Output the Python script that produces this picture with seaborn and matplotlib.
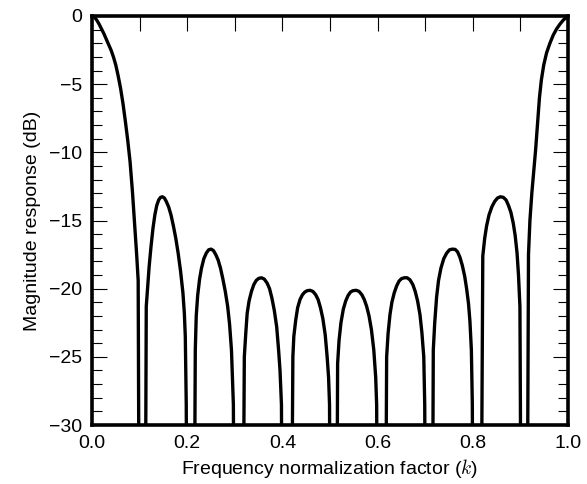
import numpy as np
import pandas as pd
import matplotlib
matplotlib.use("Agg")
import matplotlib.pyplot as plt
from matplotlib.ticker import MultipleLocator, FuncFormatter
import seaborn as sns

main_lobe_left_k = [0.000, 0.005, 0.010, 0.015, 0.020, 0.025, 0.030, 0.035, 0.040, 0.045, 0.050,
                    0.055, 0.060, 0.065, 0.070, 0.075, 0.080, 0.085, 0.090, 0.094, 0.097, 0.098, 0.105]
main_lobe_left_db = [0.0, -0.08, -0.3, -0.6, -0.95, -1.3, -1.7, -2.1, -2.5, -3.0, -3.6,
                     -4.4, -5.3, -6.4, -7.7, -9.1, -10.7, -12.9, -15.5, -17.6, -19.4, -28.5, -100]

lobe1_k = [0.114, 0.117, 0.120, 0.124, 0.128, 0.132, 0.136, 0.140, 0.144, 0.148, 0.152,
           0.156, 0.161, 0.166, 0.171, 0.176, 0.181, 0.186, 0.191, 0.194, 0.196, 0.198, 0.206]
lobe1_db = [-21.3, -19.8, -18.4, -16.9, -15.6, -14.6, -13.9, -13.5, -13.3, -13.26, -13.35,
            -13.6, -14.0, -14.6, -15.4, -16.3, -17.4, -18.7, -20.3, -21.8, -23.5, -28.5, -100]

lobe2_k = [0.217, 0.219, 0.222, 0.226, 0.230, 0.235, 0.240, 0.245, 0.250, 0.255,
           0.260, 0.265, 0.270, 0.275, 0.280, 0.285, 0.289, 0.293, 0.297, 0.307]
lobe2_db = [-24.5, -22.0, -20.5, -19.3, -18.5, -17.8, -17.4, -17.15, -17.1, -17.2,
            -17.5, -17.9, -18.5, -19.3, -20.2, -21.3, -22.6, -24.5, -28.5, -100]

lobe3_k = [0.320, 0.323, 0.326, 0.330, 0.335, 0.340, 0.345, 0.350, 0.356, 0.362,
           0.368, 0.373, 0.378, 0.383, 0.388, 0.392, 0.395, 0.398, 0.408]
lobe3_db = [-25.0, -23.3, -21.8, -20.9, -20.2, -19.7, -19.4, -19.25, -19.2, -19.3,
            -19.6, -20.0, -20.7, -21.6, -22.8, -24.5, -26.0, -28.5, -100]

lobe4_k = [0.422, 0.424, 0.428, 0.432, 0.437, 0.442, 0.447, 0.452, 0.458, 0.464,
           0.470, 0.475, 0.480, 0.485, 0.490, 0.494, 0.497, 0.499, 0.507]
lobe4_db = [-25.0, -23.5, -22.3, -21.4, -20.8, -20.45, -20.25, -20.15, -20.12, -20.2,
            -20.45, -20.8, -21.4, -22.2, -23.4, -25.0, -26.5, -28.5, -100]

lobe5_k = [0.516, 0.519, 0.523, 0.528, 0.533, 0.538, 0.543, 0.548, 0.555, 0.561,
           0.567, 0.572, 0.577, 0.582, 0.587, 0.592, 0.596, 0.598, 0.608]
lobe5_db = [-25.5, -23.8, -22.5, -21.5, -20.9, -20.5, -20.25, -20.15, -20.12, -20.2,
            -20.45, -20.8, -21.3, -22.0, -23.0, -24.5, -26.5, -28.5, -100]

lobe6_k = [0.619, 0.622, 0.626, 0.630, 0.635, 0.640, 0.645, 0.650, 0.656, 0.662,
           0.668, 0.674, 0.679, 0.684, 0.689, 0.693, 0.697, 0.699, 0.708]
lobe6_db = [-25.0, -23.3, -21.9, -21.0, -20.3, -19.8, -19.45, -19.27, -19.2, -19.2,
            -19.35, -19.7, -20.2, -20.9, -21.9, -23.2, -25.0, -28.5, -100]

lobe7_k = [0.717, 0.720, 0.724, 0.728, 0.733, 0.739, 0.745, 0.751, 0.757, 0.763,
           0.768, 0.773, 0.778, 0.783, 0.787, 0.791, 0.794, 0.797, 0.799, 0.808]
lobe7_db = [-24.5, -22.5, -20.6, -19.4, -18.5, -17.8, -17.4, -17.15, -17.1, -17.12,
            -17.3, -17.7, -18.3, -19.1, -20.0, -21.1, -22.4, -24.5, -28.5, -100]

lobe8_k = [0.821, 0.825, 0.829, 0.834, 0.840, 0.846, 0.852, 0.858, 0.864, 0.870,
           0.875, 0.880, 0.885, 0.889, 0.893, 0.896, 0.899, 0.900, 0.907]
lobe8_db = [-17.6, -16.3, -15.4, -14.6, -14.0, -13.6, -13.35, -13.26, -13.3, -13.5,
            -13.9, -14.4, -15.2, -16.1, -17.4, -19.0, -21.3, -28.5, -100]

main_lobe_right_k = [0.917, 0.920, 0.924, 0.928, 0.932, 0.936, 0.940, 0.944, 0.949, 0.955,
                     0.962, 0.969, 0.976, 0.983, 0.990, 1.000]
main_lobe_right_db = [-17.5, -15.0, -13.0, -11.4, -9.8, -7.9, -6.0, -4.7, -3.6, -2.7,
                      -2.0, -1.4, -0.95, -0.6, -0.3, 0.0]

k = (main_lobe_left_k + lobe1_k + lobe2_k + lobe3_k + lobe4_k + lobe5_k
     + lobe6_k + lobe7_k + lobe8_k + main_lobe_right_k)
db = (main_lobe_left_db + lobe1_db + lobe2_db + lobe3_db + lobe4_db + lobe5_db
      + lobe6_db + lobe7_db + lobe8_db + main_lobe_right_db)
df = pd.DataFrame({"k": k, "dB": db})

sns.set_style("white")
plt.rcParams["font.family"] = ["Liberation Sans", "DejaVu Sans"]
plt.rcParams["mathtext.fontset"] = "cm"
plt.rcParams["text.color"] = "black"
plt.rcParams["axes.labelcolor"] = "black"
plt.rcParams["xtick.color"] = "black"
plt.rcParams["ytick.color"] = "black"

fig = plt.figure(figsize=(5.87, 4.84), dpi=100)
ax = fig.add_axes([92 / 587, 1 - 425 / 484, 476 / 587, 409 / 484])

sns.lineplot(data=df, x="k", y="dB", sort=False, estimator=None,
             color="black", lw=2.4, ax=ax)
ax.lines[0].set_solid_joinstyle("round")

ax.set_xlim(0, 1)
ax.set_ylim(-30, 0)
ax.xaxis.set_major_locator(MultipleLocator(0.2))
ax.xaxis.set_minor_locator(MultipleLocator(0.1))
ax.yaxis.set_major_locator(MultipleLocator(5))
ax.yaxis.set_minor_locator(MultipleLocator(1))
ax.xaxis.set_major_formatter(FuncFormatter(lambda v, p: f"{v:.1f}"))
ax.yaxis.set_major_formatter(FuncFormatter(lambda v, p: f"{int(round(v))}".replace("-", "\u2212")))

ax.tick_params(which="both", direction="in", top=True, right=True,
               bottom=False, left=True, width=0.8, color="black",
               labelcolor="black", labelsize=14)
ax.tick_params(axis="x", which="both", length=11, pad=7)
ax.tick_params(axis="y", which="major", length=11, pad=7)
ax.tick_params(axis="y", which="minor", length=7)

for s in ax.spines.values():
    s.set_linewidth(2.6)
    s.set_color("black")

ax.set_xlabel("Frequency normalization factor ($k$)", fontsize=14, labelpad=4)
ax.set_ylabel("Magnitude response (dB)", fontsize=14, labelpad=6)

fig.savefig("out.png", dpi=100)
